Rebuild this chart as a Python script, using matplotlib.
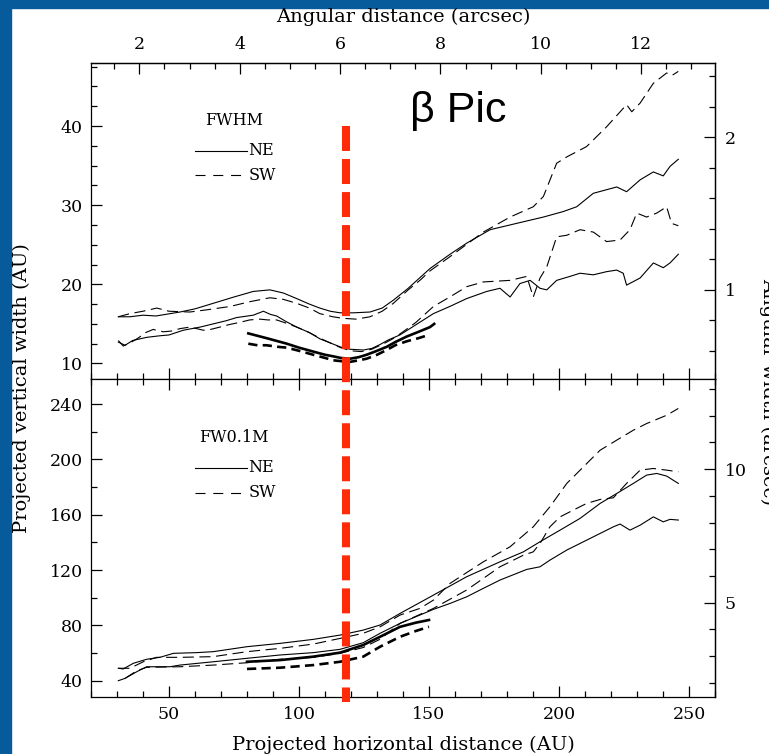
import matplotlib.pyplot as plt
from matplotlib.lines import Line2D
from matplotlib.patches import Rectangle
from matplotlib.ticker import MultipleLocator

plt.rcParams['font.family'] = ['DejaVu Serif', 'DejaVu Sans']

AU_PER_ARCSEC = 19.3   # beta Pic at 19.3 pc
marker_au = 118.0       # red dashed marker position (AU)
marker_top = 40.0       # where the marker starts in the FWHM panel

# ---- FWHM panel (AU) ----
fwhm_ne_out_x = [30.5, 35, 40, 45, 54.2, 60, 67, 75, 82.4, 88.8, 94, 99.1, 104, 108, 112,
                 115.8, 121, 127.3, 132, 136.3, 142, 150.4, 158.1, 164.5, 173.5, 183.7,
                 194, 201.7, 206.8, 213.2, 222.2, 226, 231.2, 236.3, 240.1, 242.7, 245.9]
fwhm_ne_out_y = [15.9, 15.9, 16.1, 16.0, 16.5, 16.9, 17.6, 18.4, 19.1, 19.3, 18.9, 18.2, 17.5,
                 17.0, 16.6, 16.4, 16.4, 16.5, 17.0, 18.0, 19.5, 22.0, 23.8, 25.2, 26.9, 27.7,
                 28.5, 29.2, 29.8, 31.5, 32.3, 31.7, 33.2, 34.2, 33.7, 34.9, 35.8]

fwhm_sw_out_x = [30.5, 35, 40, 45.3, 50, 58, 65, 73.5, 81, 88.8, 94, 99.1, 104, 108, 113, 117,
                 122, 127.3, 132, 136.3, 142, 146.5, 150.4, 158.1, 170.9, 181.2, 190.1, 194,
                 199.1, 203, 210.6, 218.3, 226, 228, 231.2, 236.3, 241.4, 243.5, 245.9]
fwhm_sw_out_y = [15.9, 16.3, 16.6, 17.0, 16.6, 16.5, 16.8, 17.2, 17.8, 18.3, 18.1, 17.6, 17.0,
                 16.3, 15.9, 15.7, 15.6, 15.9, 16.6, 17.6, 19.3, 20.5, 21.7, 23.5, 26.6, 28.5,
                 29.8, 31.1, 35.3, 36.1, 37.4, 39.9, 42.7, 41.8, 42.9, 45.4, 46.7, 46.4, 46.9]

fwhm_ne_in_x = [30.5, 33.1, 36, 41.4, 46.5, 50, 55.5, 62, 67, 72, 76, 82.4, 86.3, 89, 91.4, 95,
                99.1, 104, 108.1, 112, 115.8, 119.6, 124.7, 128, 131.2, 134.5, 138.8, 145,
                151.7, 158, 164.5, 172.2, 177.3, 181.2, 185, 188.9, 192.7, 195.3, 199.1, 204.2,
                208.1, 213.2, 218.3, 222.2, 224.7, 226, 231.2, 236.3, 240.1, 242.7, 245.9]
fwhm_ne_in_y = [12.7, 12.3, 12.9, 13.3, 13.5, 13.6, 14.2, 14.6, 15.0, 15.4, 15.8, 16.1, 16.6,
                16.2, 16.0, 15.3, 14.6, 13.9, 13.1, 12.6, 12.1, 11.8, 11.7, 11.9, 12.4, 13.0,
                13.6, 14.9, 16.3, 17.2, 18.2, 19.1, 19.5, 18.4, 20.1, 20.5, 19.5, 19.3, 20.5,
                21.0, 21.4, 21.2, 21.6, 21.8, 21.4, 19.9, 20.8, 22.7, 22.1, 22.7, 23.8]

fwhm_sw_in_x = [30.5, 32.4, 35, 38.1, 41, 43.9, 47.8, 51, 54.2, 58.1, 63.2, 66, 69.6, 73, 77.3,
                81, 85, 88, 91.4, 95, 99.1, 104, 108, 112, 116, 120, 124, 128, 132, 136, 140,
                145, 151.7, 158, 164.5, 170.9, 181.2, 187.6, 190.1, 192.7, 195.3, 199.1, 203,
                208.1, 213.2, 218.3, 223.5, 227.3, 229.9, 233.7, 237.6, 241.4, 243.3, 245.9]
fwhm_sw_in_y = [12.9, 12.2, 12.6, 13.2, 13.9, 14.3, 14.0, 14.1, 14.4, 14.6, 14.2, 14.3, 14.6,
                14.9, 15.2, 15.5, 15.6, 15.5, 15.5, 15.1, 14.6, 13.9, 13.2, 12.6, 12.0, 11.6,
                11.5, 11.8, 12.4, 13.1, 14.0, 15.2, 17.2, 18.4, 19.7, 20.3, 20.5, 21.0, 18.4,
                20.8, 22.2, 26.0, 26.2, 26.9, 26.6, 25.4, 25.6, 26.9, 29.0, 28.5, 29.0, 29.8,
                27.7, 27.4]

fwhm_thick_ne_x = [80.5, 87.5, 95.3, 100, 105.5, 110, 113.2, 116, 119.6, 123, 126, 130, 133.7,
                   137, 141.4, 146, 150.4, 152]
fwhm_thick_ne_y = [13.8, 13.2, 12.5, 12.0, 11.5, 11.1, 10.9, 10.7, 10.6, 10.8, 11.1, 11.6, 12.1,
                   12.7, 13.4, 14.0, 14.6, 15.0]
fwhm_thick_sw_x = [80.5, 84, 87.5, 92, 95.3, 100, 105.5, 110, 113.2, 116, 119.6, 123, 126, 130,
                   133.7, 137, 141.4, 146, 149.8]
fwhm_thick_sw_y = [12.5, 12.3, 12.3, 12.1, 12.0, 11.6, 11.1, 10.7, 10.4, 10.3, 10.2, 10.4, 10.6,
                   11.1, 11.7, 12.3, 12.8, 13.2, 13.6]

# ---- FW0.1M panel (AU) ----
fw01_ne_out_x = [30.5, 32.4, 36.3, 41.4, 46.5, 51.7, 60.6, 67, 80, 92.7, 105.5, 115.8, 124.7,
                 131.2, 138.9, 151.7, 164.5, 177.3, 186.3, 192.7, 200.4, 208.1, 215.8, 222.2,
                 228.6, 233.7, 237.6, 241.4, 245.9]
fw01_ne_out_y = [49.0, 48.5, 52.6, 55.5, 56.9, 59.8, 60.3, 61.0, 64.6, 67.0, 69.9, 73.0, 76.6,
                 80.3, 88.7, 101.9, 115.2, 126.0, 133.2, 140.5, 148.9, 157.4, 168.2, 175.4,
                 182.7, 188.7, 189.9, 188.0, 182.7]

fw01_sw_out_x = [30.5, 35.0, 40.1, 45.2, 54.2, 67, 80, 92.7, 105.5, 115.8, 124.7, 131.2, 138.9,
                 146.5, 151.7, 158.1, 170.9, 181.2, 190.1, 196.5, 203, 209.4, 215.8, 222.2,
                 228.6, 233.7, 241.4, 245.9]
fw01_sw_out_y = [49.0, 49.0, 53.7, 56.9, 56.9, 57.4, 61.0, 63.4, 66.5, 70.6, 74.3, 79.0, 87.5,
                 92.3, 98.3, 110.4, 126.0, 136.9, 151.3, 165.8, 182.7, 194.7, 206.7, 214.0,
                 221.2, 226.0, 232.0, 236.9]

fw01_ne_in_x = [30.5, 33.1, 37.6, 41.4, 50.4, 54.2, 67, 80, 92.7, 105.5, 115.8, 124.7, 131.2,
                138.9, 151.7, 158.1, 164.5, 170.9, 177.3, 187.6, 192.7, 196.5, 203, 209.4,
                215.8, 220.9, 223.5, 227.3, 231.2, 236.3, 240.1, 242.7, 245.9]
fw01_ne_in_y = [40.0, 41.7, 46.5, 50.1, 50.1, 51.3, 53.7, 56.2, 58.6, 60.3, 62.7, 67.5, 74.3,
                81.5, 91.6, 95.9, 100.7, 106.8, 112.8, 120.5, 122.4, 127.2, 134.5, 140.5,
                146.5, 151.3, 153.3, 148.9, 152.5, 158.5, 154.9, 156.7, 156.2]

fw01_sw_in_x = [33.1, 37.6, 41.4, 54.2, 67, 80, 92.7, 105.5, 115.8, 124.7, 131.2, 138.9, 151.7,
                164.5, 177.3, 181.2, 186.3, 190.1, 192.7, 196.5, 200.4, 205.5, 210.6, 215.8,
                220.9, 226.0, 231.2, 236.3, 241.4, 245.9]
fw01_sw_in_y = [41.7, 47.2, 49.7, 50.1, 51.3, 53.0, 55.5, 56.9, 59.8, 64.0, 70.0, 81.5, 92.3,
                105.6, 122.4, 126.0, 130.8, 133.2, 139.3, 151.3, 158.5, 163.4, 168.2, 171.1,
                172.3, 182.7, 192.3, 193.5, 192.3, 191.1]

fw01_thick_ne_x = [80, 92.7, 105.5, 115.8, 124.7, 131.2, 138.9, 145, 150]
fw01_thick_ne_y = [53.7, 54.9, 57.4, 60.3, 65.8, 71.8, 79.0, 82.0, 83.9]
fw01_thick_sw_x = [80, 92.7, 105.5, 115.8, 124.7, 131.2, 138.9, 145, 150]
fw01_thick_sw_y = [48.5, 49.4, 51.3, 53.7, 57.4, 64.6, 71.8, 76.0, 79.0]

W, H = 769, 754
fig = plt.figure(figsize=(W / 100, H / 100), dpi=100)
fig.patch.set_facecolor('white')

# slide background strips
blue = '#075b9b'
fig.patches.append(Rectangle((0, 0), 11 / W, 1, transform=fig.transFigure, color=blue, zorder=-5))
fig.patches.append(Rectangle((0, 1 - 8 / H), 1, 8 / H, transform=fig.transFigure, color=blue, zorder=-5))

left, width = 91 / W, 624 / W
ax1 = fig.add_axes([left, 1 - 379.3 / H, width, 316.6 / H])
ax2 = fig.add_axes([left, 1 - 697.3 / H, width, 318.0 / H])

thin = 0.8
thick = 1.9
dash_thin = (0, (10, 5))
dash_thick = (0, (3.5, 2))

# FWHM curves
ax1.plot(fwhm_ne_out_x, fwhm_ne_out_y, 'k-', lw=thin)
ax1.plot(fwhm_sw_out_x, fwhm_sw_out_y, 'k', ls=dash_thin, lw=thin)
ax1.plot(fwhm_ne_in_x, fwhm_ne_in_y, 'k-', lw=thin)
ax1.plot(fwhm_sw_in_x, fwhm_sw_in_y, 'k', ls=dash_thin, lw=thin)
ax1.plot(fwhm_thick_ne_x, fwhm_thick_ne_y, 'k-', lw=thick)
ax1.plot(fwhm_thick_sw_x, fwhm_thick_sw_y, 'k', ls=dash_thick, lw=thick)

# FW0.1M curves
ax2.plot(fw01_ne_out_x, fw01_ne_out_y, 'k-', lw=thin)
ax2.plot(fw01_sw_out_x, fw01_sw_out_y, 'k', ls=dash_thin, lw=thin)
ax2.plot(fw01_ne_in_x, fw01_ne_in_y, 'k-', lw=thin)
ax2.plot(fw01_sw_in_x, fw01_sw_in_y, 'k', ls=dash_thin, lw=thin)
ax2.plot(fw01_thick_ne_x, fw01_thick_ne_y, 'k-', lw=thick)
ax2.plot(fw01_thick_sw_x, fw01_thick_sw_y, 'k', ls=dash_thick, lw=thick)

ax1.set_xlim(20, 260)
ax2.set_xlim(20, 260)
ax1.set_ylim(8, 48)
ax2.set_ylim(28, 258)

au2as = (lambda v: v / AU_PER_ARCSEC, lambda a: a * AU_PER_ARCSEC)

tick_kw = dict(direction='in', width=0.9, labelsize=12.5)
for ax in (ax1, ax2):
    for s in ax.spines.values():
        s.set_linewidth(0.9)
    ax.xaxis.set_major_locator(MultipleLocator(50))
    ax.xaxis.set_minor_locator(MultipleLocator(10))
    ax.tick_params(which='both', top=True, bottom=True, left=True, right=False, **tick_kw)
    ax.tick_params(which='major', length=8, pad=6)
    ax.tick_params(which='minor', length=4)

ax1.tick_params(axis='x', which='both', top=False, labelbottom=False)
ax2.tick_params(axis='x', which='both', labeltop=False)
ax1.yaxis.set_major_locator(MultipleLocator(10))
ax1.yaxis.set_minor_locator(MultipleLocator(2.5))
ax2.yaxis.set_major_locator(MultipleLocator(40))
ax2.yaxis.set_minor_locator(MultipleLocator(20))

# angular scales
top = ax1.secondary_xaxis('top', functions=au2as)
top.xaxis.set_major_locator(MultipleLocator(2))
top.xaxis.set_minor_locator(MultipleLocator(0.5))
r1 = ax1.secondary_yaxis('right', functions=au2as)
r1.yaxis.set_major_locator(MultipleLocator(1))
r1.yaxis.set_minor_locator(MultipleLocator(0.2))
r2 = ax2.secondary_yaxis('right', functions=au2as)
r2.yaxis.set_major_locator(MultipleLocator(5))
r2.yaxis.set_minor_locator(MultipleLocator(1))
for sa in (top, r1, r2):
    sa.tick_params(which='both', **tick_kw)
    sa.tick_params(which='major', length=8, pad=7)
    sa.tick_params(which='minor', length=4)
    for s in sa.spines.values():
        s.set_linewidth(0.9)

# in-panel legends
for ax, name in ((ax1, 'FWHM'), (ax2, 'FW0.1M')):
    tr = ax.transAxes
    ax.text(0.229, 0.818, name, transform=tr, ha='center', va='center', fontsize=11.5)
    ax.plot([0.167, 0.250], [0.722, 0.722], 'k-', lw=thin, transform=tr)
    ax.plot([0.167, 0.250], [0.644, 0.644], 'k', ls=(0, (9, 7)), lw=thin, transform=tr)
    ax.text(0.252, 0.722, 'NE', transform=tr, ha='left', va='center', fontsize=11.5)
    ax.text(0.252, 0.644, 'SW', transform=tr, ha='left', va='center', fontsize=11.5)

ax1.text(0.588, 0.813, 'β Pic', transform=ax1.transAxes, ha='center', va='baseline',
         fontsize=31, family=['Liberation Sans', 'DejaVu Sans'])

# red marker across both panels
fig.canvas.draw()
inv = fig.transFigure.inverted()
x_fig, y_top = inv.transform(ax1.transData.transform((marker_au, marker_top)))
y_bot = 1 - 702 / H
fig.add_artist(Line2D([x_fig, x_fig], [y_top, y_bot], transform=fig.transFigure,
                      color='#ff2a08', lw=5.8, ls=(0, (3.1, 1.0)), solid_capstyle='butt',
                      dash_capstyle='butt', zorder=10))

fig.text((91 + 715) / 2 / W, 1 - 17 / H, 'Angular distance (arcsec)', ha='center', va='center', fontsize=14)
fig.text((91 + 715) / 2 / W, 1 - 745 / H, 'Projected horizontal distance (AU)', ha='center', va='center', fontsize=14)
fig.text(22 / W, 1 - 388 / H, 'Projected vertical width (AU)', rotation=90, ha='center', va='center', fontsize=14)
fig.text(768 / W, 1 - 392 / H, 'Angular width (arcsec)', rotation=270, ha='center', va='center', fontsize=14)

fig.savefig('out.png', dpi=100)
